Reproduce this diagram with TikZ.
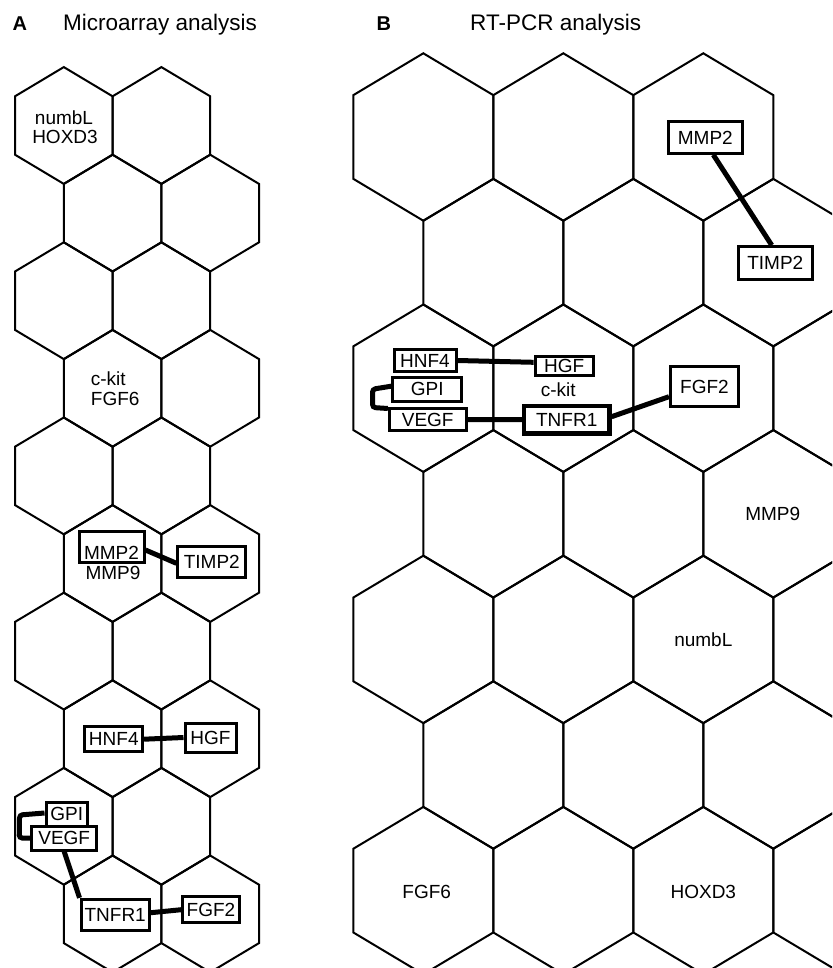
\documentclass[tikz,border=0pt]{standalone}
\usepackage{fontspec}
\setmainfont{Liberation Sans}
\usetikzlibrary{calc}
\tikzset{
  hexline/.style={line width=2pt, line join=miter},
  lbl/.style={font=\fontsize{19}{20}\selectfont, inner sep=0pt, anchor=base},
  gbox/.style={draw, line width=3pt, fill=white, inner sep=0pt, font=\fontsize{19}{20}\selectfont},
  conn/.style={line width=5pt},
  ttl/.style={font=\fontsize{22.5}{24}\selectfont, inner sep=0pt, anchor=base west},
  panellbl/.style={font=\bfseries\fontsize{20}{20}\selectfont, inner sep=0pt, anchor=base west},
}
\newcommand\hexcell[4]{%
  \draw[hexline] (#1,#2-#4) -- (#1+#3,#2-#4/2) -- (#1+#3,#2+#4/2) -- (#1,#2+#4)
    -- (#1-#3,#2+#4/2) -- (#1-#3,#2-#4/2) -- cycle;}
\begin{document}
\begin{tikzpicture}[x=1pt,y=-1pt]
\useasboundingbox (0,0) rectangle (832,968);
\clip (0,0) rectangle (832,968);

% titles
\node[panellbl] (labA) at (12.5,30.7) {A};
\node[ttl] (titA) at (63,30.7) {Microarray analysis};
\node[panellbl] (labB) at (376.5,30.7) {B};
\node[ttl] (titB) at (470,30.7) {RT-PCR analysis};

% panel A grid
\foreach \r in {0,...,9}{
  \pgfmathsetmacro\yy{125.5+87.6*\r}
  \pgfmathsetmacro\xo{mod(\r,2)*48.8}
  \foreach \c in {0,1}{
    \pgfmathsetmacro\xx{63.8+\xo+97.6*\c}
    \hexcell{\xx}{\yy}{48.8}{58.4}
  }
}

% panel B grid
\foreach \c in {0,1,2}{
  \pgfmathsetmacro\xx{423.3+140*\c}
  \hexcell{\xx}{137}{70}{83.7}
}
\foreach \r in {1,...,6}{
  \pgfmathsetmacro\yy{137+125.6*\r}
  \pgfmathsetmacro\xo{mod(\r,2)*70}
  \foreach \c in {0,1,2,3}{
    \pgfmathsetmacro\xx{423.3+\xo+140*\c}
    \hexcell{\xx}{\yy}{70}{83.7}
  }
}

% ---------- panel A labels ----------
\node[lbl] (a_numbl) at (64,125) {numbL};
\node[lbl] (a_hoxd3) at (65,144) {HOXD3};
\node[lbl, anchor=base west] (a_ckit) at (90.7,385) {c-kit};
\node[lbl, anchor=base west] (a_fgf6) at (90.7,405) {FGF6};
\node[lbl] (a_mmp9) at (113,579.7) {MMP9};

% panel A boxes
\node[gbox, minimum width=65pt, text height=26pt, text depth=1pt, inner ysep=2pt] (a_mmp2) at (111.5,547) {MMP2};
\node[gbox, minimum width=67.7pt, minimum height=30.7pt] (a_timp2) at (211.8,562.3) {TIMP2};
\node[gbox, minimum width=57.7pt, minimum height=25pt] (a_hnf4) at (113.8,739.2) {HNF4};
\node[gbox, minimum width=51pt, minimum height=29pt] (a_hgf) at (210.5,737.5) {HGF};
\node[gbox, minimum width=41.3pt, minimum height=24pt] (a_gpi) at (66.7,814) {GPI};
\node[gbox, minimum width=65pt, minimum height=24pt] (a_vegf) at (64.2,838) {VEGF};
\node[gbox, minimum width=68.3pt, minimum height=30.7pt] (a_tnfr1) at (115.2,914.7) {TNFR1};
\node[gbox, minimum width=56.7pt, minimum height=26pt] (a_fgf2) at (211,909.7) {FGF2};

% panel A connectors
\draw[conn] ($(a_mmp2.east)+(0,3)$) -- ($(a_timp2.west)+(0,1)$);
\draw[conn] (a_hnf4.east) -- (a_hgf.west);
\draw[conn, rounded corners=3pt] ($(a_gpi.west)+(0,-1)$) -- ($(a_gpi.west)+(-25,1)$) -- ($(a_vegf.west)+(-11,0)$) -- (a_vegf.west);
\draw[conn] (a_vegf.south) -- (a_tnfr1.north west);
\draw[conn] ($(a_tnfr1.east)+(0,-2)$) -- (a_fgf2.west);

% ---------- panel B labels ----------
\node[lbl] (b_ckit) at (558.3,396.5) {c-kit};
\node[lbl] (b_mmp9) at (772.7,520) {MMP9};
\node[lbl] (b_numbl) at (703.3,646) {numbL};
\node[lbl] (b_fgf6) at (426.7,898) {FGF6};
\node[lbl] (b_hoxd3) at (703.3,898) {HOXD3};

% panel B boxes
\node[gbox, minimum width=74pt, minimum height=31.6pt] (b_mmp2) at (705.3,137.5) {MMP2};
\node[gbox, minimum width=74pt, minimum height=32.6pt] (b_timp2) at (775.3,263) {TIMP2};
\node[gbox, minimum width=62pt, minimum height=22.4pt] (b_hnf4) at (425,360.5) {HNF4};
\node[gbox, minimum width=58.3pt, minimum height=19.3pt] (b_hgf) at (564.2,366.3) {HGF};
\node[gbox, minimum width=69pt, minimum height=23.7pt] (b_gpi) at (427.2,389.2) {GPI};
\node[gbox, minimum width=76.7pt, minimum height=22.4pt] (b_vegf) at (427.7,419.5) {VEGF};
\node[gbox, line width=4.5pt, minimum width=85.3pt, minimum height=27.3pt] (b_tnfr1) at (566.7,419.7) {TNFR1};
\node[gbox, line width=3.5pt, minimum width=67.6pt, minimum height=40pt] (b_fgf2) at (704.5,386.7) {FGF2};

% panel B connectors
\draw[conn] ($(b_mmp2.south)+(8,0)$) -- ($(b_timp2.north)+(-3.6,0)$);
\draw[conn] (b_hnf4.east) -- ($(b_hgf.west)+(0,-4)$);
\draw[conn, rounded corners=3pt] ($(b_gpi.west)+(0,-3)$) -- ($(b_gpi.west)+(-18.7,0)$) -- ($(b_vegf.west)+(-15.3,-12)$) -- ($(b_vegf.west)+(0,-11)$);
\draw[conn] (b_vegf.east) -- (b_tnfr1.west);
\draw[conn] ($(b_tnfr1.east)+(0,-3)$) -- ($(b_fgf2.west)+(0,10)$);
\end{tikzpicture}
\end{document}
